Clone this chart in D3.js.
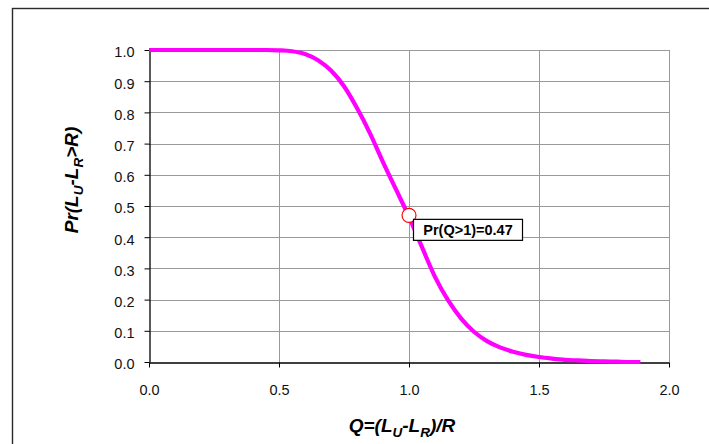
<!DOCTYPE html>
<html>
<head>
<meta charset="utf-8">
<script src="https://cdn.jsdelivr.net/npm/d3@7"></script>
<style>
  html, body { margin: 0; padding: 0; background: #fff; }
  svg { display: block; font-family: "Liberation Sans", Arial, sans-serif; }
</style>
</head>
<body>
<svg id="chart" width="709" height="444"></svg>
<script>
// Exceedance probability curve Pr(LU - LR > R) against Q = (LU - LR)/R
const qValues = [0, 0.05, 0.1, 0.15, 0.2, 0.25, 0.3, 0.35, 0.4, 0.45,
                 0.5, 0.55, 0.6, 0.65, 0.7, 0.75, 0.8, 0.85, 0.9, 0.95,
                 1.0, 1.05, 1.1, 1.15, 1.2, 1.25, 1.3, 1.35, 1.4, 1.45,
                 1.5, 1.55, 1.6, 1.65, 1.7, 1.75, 1.8, 1.85, 1.89];
const probValues = [1.000, 1.000, 1.000, 1.000, 1.000, 1.000, 1.000, 1.000, 1.000, 1.000,
                    0.999, 0.996, 0.987, 0.967, 0.934, 0.884, 0.814, 0.733, 0.641, 0.553,
                    0.465, 0.368, 0.273, 0.198, 0.140, 0.097, 0.067, 0.047, 0.033, 0.023,
                    0.016, 0.011, 0.007, 0.005, 0.003, 0.002, 0.001, 0.000, 0.000];

// Highlighted point and its label
const markerQ = 1.0;
const markerProb = 0.47;
const markerLabel = "Pr(Q>1)=0.47";

const xTicks = [0, 0.5, 1.0, 1.5, 2.0];
const yTicks = [0, 0.1, 0.2, 0.3, 0.4, 0.5, 0.6, 0.7, 0.8, 0.9, 1.0];

const svg = d3.select("#chart");
const plot = { left: 149, right: 669, top: 50, bottom: 362 };

const x = d3.scaleLinear().domain([0, 2]).range([plot.left, plot.right]);
const y = d3.scaleLinear().domain([0, 1]).range([plot.bottom, plot.top]);

// Outer chart frame
svg.append("rect")
  .attr("x", 12.5).attr("y", 8.5)
  .attr("width", 720).attr("height", 460)
  .attr("fill", "#fff")
  .attr("stroke", "#2a2a2a").attr("stroke-width", 1.4);

// Gridlines
const grid = svg.append("g").attr("stroke", "#999").attr("stroke-width", 1).attr("shape-rendering", "crispEdges");
grid.selectAll("line.h").data(yTicks.filter(d => d > 0)).join("line")
  .attr("x1", plot.left).attr("x2", plot.right)
  .attr("y1", d => Math.round(y(d)) + 0.5).attr("y2", d => Math.round(y(d)) + 0.5);
grid.selectAll("line.v").data(xTicks.filter(d => d > 0)).join("line")
  .attr("x1", d => Math.round(x(d)) + 0.5).attr("x2", d => Math.round(x(d)) + 0.5)
  .attr("y1", plot.top).attr("y2", plot.bottom);

// Axes
const xAxis = d3.axisBottom(x).tickValues(xTicks).tickFormat(d3.format(".1f"))
  .tickSizeInner(5).tickSizeOuter(0).tickPadding(17);
const yAxis = d3.axisLeft(y).tickValues(yTicks).tickFormat(d3.format(".1f"))
  .tickSizeInner(5).tickSizeOuter(0).tickPadding(10);

const gx = svg.append("g").attr("transform", `translate(0,${plot.bottom + 0.5})`).call(xAxis);
const gy = svg.append("g").attr("transform", `translate(${plot.left + 0.5},0)`).call(yAxis);

[gx, gy].forEach(g => {
  g.select(".domain").attr("stroke", "#000").attr("stroke-width", 1.3);
  g.selectAll(".tick line").attr("stroke", "#000");
  g.selectAll(".tick text")
    .attr("fill", "#111")
    .attr("font-family", "Liberation Sans, Arial, sans-serif")
    .attr("font-size", "14.5px");
});
gy.selectAll(".tick text").attr("dy", "0.48em");

// Curve
const points = qValues.map((q, i) => [q, probValues[i]]);
const line = d3.line()
  .x(d => x(d[0]))
  .y(d => y(d[1]))
  .curve(d3.curveMonotoneX);

svg.append("path")
  .datum(points)
  .attr("d", line)
  .attr("fill", "none")
  .attr("stroke", "#ff00ff")
  .attr("stroke-width", 4.2)
  .attr("stroke-linejoin", "round");

// Marker
const mx = x(markerQ), my = y(markerProb);
svg.append("circle")
  .attr("cx", mx).attr("cy", my).attr("r", 7)
  .attr("fill", "#fff")
  .attr("stroke", "#ff0000").attr("stroke-width", 1.2);

// Label box
const labelG = svg.append("g").attr("transform", `translate(${mx + 4.5},${my + 4})`);
labelG.append("rect")
  .attr("x", 0).attr("y", 0)
  .attr("width", 109).attr("height", 21)
  .attr("fill", "#fff").attr("stroke", "#000").attr("stroke-width", 1.2);
labelG.append("text")
  .attr("x", 54.5).attr("y", 15.6)
  .attr("text-anchor", "middle")
  .attr("font-size", "14.5px").attr("font-weight", "bold")
  .attr("fill", "#000")
  .text(markerLabel);

// Axis titles with subscripts
function titleWithSubs(sel, parts) {
  parts.forEach(p => {
    const t = sel.append("tspan").text(p.t);
    if (p.sub) t.attr("font-size", "13.5px").attr("dy", 4.5);
    else if (p.after) t.attr("dy", -4.5);
  });
}

const xTitle = svg.append("text")
  .attr("x", 402).attr("y", 432)
  .attr("text-anchor", "middle")
  .attr("font-size", "19px").attr("font-weight", "bold").attr("font-style", "italic")
  .attr("fill", "#000");
titleWithSubs(xTitle, [
  { t: "Q=(L" }, { t: "U", sub: true }, { t: "-L", after: true },
  { t: "R", sub: true }, { t: ")/R", after: true }
]);

const yTitle = svg.append("text")
  .attr("transform", "translate(78,180) rotate(-90)")
  .attr("text-anchor", "middle")
  .attr("font-size", "19px").attr("font-weight", "bold").attr("font-style", "italic")
  .attr("fill", "#000");
titleWithSubs(yTitle, [
  { t: "Pr(L" }, { t: "U", sub: true }, { t: "-L", after: true },
  { t: "R", sub: true }, { t: ">R)", after: true }
]);
</script>
</body>
</html>
